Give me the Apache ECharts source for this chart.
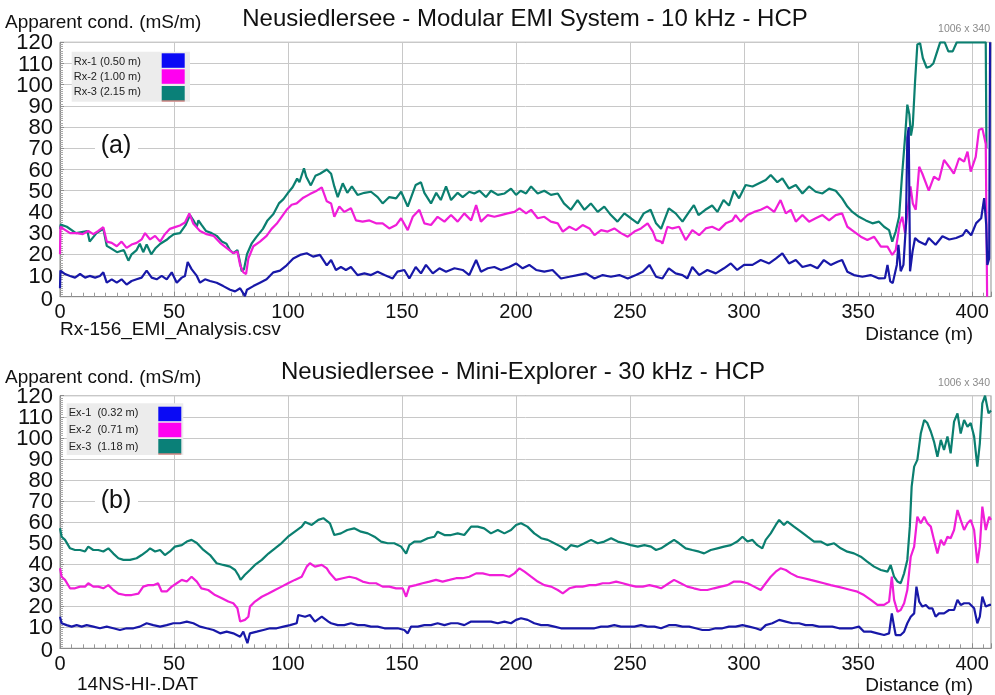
<!DOCTYPE html>
<html>
<head>
<meta charset="utf-8">
<script src="https://cdn.jsdelivr.net/npm/echarts@6/dist/echarts.min.js"></script>
<style>
  html, body { margin: 0; padding: 0; background: #fff; }
  #chart { width: 995px; height: 695px; }
</style>
</head>
<body>
<div id="chart"></div>
<script>
// panel (a): Modular EMI System, [distance m, apparent cond. mS/m]
const rx1 = [[0,4],[0.2,12.3],[2.2,10.7],[4.4,9.8],[6.6,9],[8.8,10.7],[11,9],[13,9.8],[15.4,9],[17.5,9.8],[19,11.5],[20.5,6.6],[22.7,8.2],[24.9,6.6],[27,8.2],[29.2,5.7],[31.4,7.4],[33.6,8.2],[35.8,9],[38,12.3],[40.2,9],[42.4,8.2],[44.6,9.8],[46.8,8.2],[49,11.5],[51.2,6.6],[53.4,9],[54.8,9.8],[56,16.4],[57.7,13],[60,9.8],[61.4,6.6],[63.6,8.2],[65.8,7.4],[68.7,6.6],[71.6,5],[74.6,3.3],[76.8,2.5],[79,4],[81.1,0.3],[82,3.3],[84.8,5],[87.7,6.6],[90.6,8.2],[93.6,11.5],[96.5,12.3],[99.4,14.8],[102.3,18],[105.3,19.7],[108.2,20.5],[111,18.9],[114,19.7],[117,14.8],[118.9,17.3],[121,12.6],[123.2,14],[125.4,12.6],[127.6,14],[130.5,10.2],[133.5,11],[136.4,10.2],[139.3,11.8],[142.3,10.2],[145.9,8.6],[148,11.8],[151,12.6],[153.2,8.6],[156,14],[158.3,11],[160.5,15],[163.5,11],[166.4,13.4],[169.3,11.8],[173,13.4],[176.6,12.6],[179.5,10.2],[182.5,17.3],[184.6,11.8],[187.6,13.4],[190.5,14],[193.4,12.6],[197,14],[200,15.7],[202.9,13.4],[205.8,15],[208.8,12.6],[212.4,11.8],[216,12.6],[219.7,8.6],[223.4,9.4],[227,10.2],[230.7,11],[234.4,8.6],[238,10.2],[241.6,9.4],[245.3,10.2],[249,8.6],[252.6,10.2],[255.6,11.8],[258.5,15],[261.4,9.4],[264.2,8.6],[267,13.4],[270,11],[273,10.2],[275.1,8.6],[277.3,14],[280.3,10.2],[283.9,12.6],[287.6,11],[291.2,13.4],[294.2,15.7],[297,12.6],[300,15],[303.7,15],[307.3,17.3],[311,15.7],[313.9,18],[316.8,20.4],[319.7,15.7],[322.7,17.3],[325.6,14],[329.2,15],[332.2,13.4],[335,17.3],[338,15],[341,16.5],[343,17.3],[345.3,11.8],[348.2,10.2],[351.9,9.4],[355.5,10.2],[359.2,8.6],[361.8,8.8],[362.9,15],[364.1,7.2],[365.2,6.4],[367,15],[367.7,24.5],[368.7,12],[369.9,15],[371,34],[371.6,75],[372.2,80],[372.8,12],[373.9,21.4],[375,27.7],[376.7,26],[379.6,24.5],[381,27.7],[384,24.5],[387,28.5],[390,27],[393,27.7],[395.9,29],[397.4,31.6],[399.6,29],[401.8,34.7],[404,37],[405.3,46.5],[406.2,34],[406.7,15],[407.5,18],[407.9,120]];
const rx2 = [[0,20],[0.2,33],[1.5,32],[4.4,30],[7.3,30],[10,29.5],[12.4,31],[14.6,29.5],[16.8,31],[19,32.8],[20.5,26],[22.7,25.4],[24.9,23.8],[27,26],[29.2,23],[31.4,24.6],[33.6,25.4],[35.8,27],[37.3,30],[39.5,27],[41.7,28.7],[43.9,26],[46,29.5],[48.2,32],[50.4,32.8],[52.6,33.6],[54.8,35],[56.7,39.3],[58.5,34.4],[61.4,31],[64.3,29.5],[67.3,28.7],[70.2,25.4],[73,23],[76,20.5],[77.8,21.3],[79,14.8],[80.4,11.5],[81.6,10.7],[82.6,18],[84.8,23.8],[87.7,26],[90.6,28.7],[92.8,32],[95,34.4],[97.2,37.7],[99.4,41],[101.6,43.4],[103.8,44],[106.7,46.7],[109.6,48.4],[112.6,50],[114.8,51.6],[117,45],[118.9,44],[120.3,37.7],[122.5,42.5],[124.7,40],[127.6,41.7],[129.8,36],[132.7,35.4],[135.7,36],[138.6,34.6],[141.5,34.6],[144.4,32.2],[147.4,33.8],[149.6,37],[152.5,31.4],[154.7,37.7],[157.6,41],[159.8,34.6],[162.7,33.8],[165.6,37.7],[168.6,35.4],[171.5,38.5],[174.4,35.4],[177.3,39.3],[180.3,36],[182.5,43.2],[184.6,35.4],[187.6,38.5],[190.5,37.7],[193.4,38.5],[196.3,39.3],[199.3,40],[201.5,41.7],[204.4,39.3],[206.6,41],[209.5,37],[212.4,37.7],[215.3,35.4],[218.3,34.6],[220.5,30.7],[223.4,33],[226.3,31.4],[229.2,33.8],[232.2,32.2],[234.4,29],[237.3,31.4],[240.2,30.7],[243.1,32.2],[246,30],[249,28.3],[251.9,30.7],[254.8,32.2],[257.7,34.6],[260,30.7],[261.4,26.7],[263.6,26],[264.2,25],[266.4,33],[268.6,32.2],[271.5,33],[274.4,26.7],[277.3,31.4],[280.3,29],[283.2,32.2],[286,33],[289,31.4],[292,34.6],[294.9,36],[296.3,38.5],[298.5,35.4],[301.5,38.5],[304.4,40],[307.3,41],[310.2,42.5],[313.2,40],[316,45.6],[318.3,39.3],[320.5,41],[322.7,35.4],[325.6,38.5],[328.5,35.4],[331.4,37],[334.4,38.5],[337.3,36],[340.2,38.5],[343,39.3],[345.3,33],[348.2,30.7],[351.2,28.3],[354.1,26.7],[357,28.3],[360,23.6],[362.9,23.6],[365,19.7],[366.5,22],[368.3,34.6],[369.4,37.7],[370.6,30],[371.6,39.3],[373,52],[374,44],[375.3,41],[376.8,61.3],[378.2,58],[381,50],[383.3,56.6],[385.5,55],[387.7,64.5],[389.9,61.3],[392,58],[394.3,65.3],[396.5,63.7],[398,68.4],[399.4,59],[401.6,66],[403,78.6],[404.5,79.4],[406,72],[406.6,0]];
const rx3 = [[0,32],[0.3,34],[3,33],[7,30],[12,31],[13,26],[16,30],[19,32],[20.5,24],[22,23],[25,21],[28,22],[30,17],[31.4,20],[33.6,22],[35,25],[36.5,21],[38,24.6],[40,20],[42,23],[44,25],[47,27],[48,28],[50,29.5],[52.6,30],[55,33.6],[57,38.5],[58.5,36],[60,33],[60.7,36],[62,34],[64,31],[66.5,30],[68.7,28.7],[71,26],[73,25],[74.5,22],[76,20.5],[77.8,22],[79,16],[79.7,12],[80.7,13],[82,20],[84,25],[86,28],[89,32],[91,36],[93.6,39],[96,44],[98,46],[100,49],[102,51.6],[104,55.7],[105,54],[107,60.6],[108,56.6],[110,52.5],[112,57],[114,58],[117,60],[118.9,58],[120.3,52],[121.8,47],[124,53.5],[126,49],[128,52],[130.5,48],[133.5,49],[136.4,49.5],[139.3,47],[141.5,44],[144.4,47],[147.4,46.4],[149.6,49.5],[152.5,42.5],[154.7,49],[156,52.7],[158.3,54],[159.8,49],[162.7,44],[165,49],[167,45.6],[169.3,52],[171.5,45.6],[174.4,49],[176.6,47],[179.5,49.5],[181.7,48.7],[184,50],[186.8,47],[189,50],[192,48],[195,48.7],[197.8,51],[200,48],[202,50],[204.4,48.7],[206.6,52],[209.5,48.7],[212.4,50],[215.3,48],[218.3,48.7],[221,44],[224,41],[227,45.6],[230,41],[232.8,44],[235.8,40],[238.7,42.5],[241.6,38.5],[244.5,35.4],[247.5,39.3],[250.4,37],[253.4,34.6],[256,39.3],[259,41],[261.4,34.6],[263.6,32],[267,41.7],[270,39.3],[273,35.4],[275.9,40],[278,43.2],[280,38.5],[283,41],[286,43],[288.3,40],[291,45.6],[293.4,43],[295.6,50],[297.8,46.4],[300.7,52.7],[303.7,52],[306.6,53.5],[309.5,55],[311.7,57.4],[314.6,54],[316.8,55.8],[319.7,51],[322.7,52.7],[325.6,48.7],[328.5,52],[331.4,49.5],[334.4,48.7],[337.3,51],[340.2,50],[343,46.4],[345.3,42.5],[347.5,40],[350.4,37.7],[353.4,36],[356.3,34.6],[359.2,35.4],[361.4,33],[363.6,31.4],[365,26],[366.5,30.7],[368,37.7],[369.2,56],[370.6,75],[371.6,90.6],[372.5,86],[373.2,76],[374,81],[375,101.6],[376,119],[377.2,119.6],[378.4,112.6],[380.1,108],[381.6,108.6],[383,110],[384.5,115],[386,120],[388,120],[389.6,115.7],[391.5,115.7],[393.3,120],[406,120],[406.3,70]];

// panel (b): Mini-Explorer
const ex1 = [[0,15],[0.7,11.9],[2.9,11],[5.1,10.3],[7.3,11],[9.5,10.3],[11.7,11],[14.6,10.3],[17.5,9.5],[20.5,10.3],[23.4,9.5],[26.3,8.7],[29.2,9.5],[32.2,9.5],[35,10.3],[38,11.9],[40.9,11],[43.9,10.3],[46.8,11],[49.7,11.9],[52.6,11.9],[55.6,12.7],[58.5,11.9],[61.4,10.3],[64.3,9.5],[67.3,8.7],[70.2,7.1],[73.1,7.9],[76,7.1],[79,5.5],[80.4,7.9],[82.2,2.4],[83.3,7.1],[86.3,7.9],[89.2,8.7],[92.1,9.5],[95,9.5],[98,10.3],[100.9,11],[103.8,11.9],[104.5,15.8],[107.5,15],[109.6,15.8],[111.8,12.7],[114.8,15],[117.7,12.7],[118.9,11.9],[121.8,11],[124.7,11],[127.6,11.9],[130.6,11],[133.5,11],[136.4,10.3],[139.3,10.3],[142.3,9.5],[145.2,9.5],[148.1,9.5],[151,8.7],[152.5,7.1],[154,10.3],[156.9,10.3],[159.8,11],[162.7,11],[165.6,11.9],[168.6,11],[171.5,11.9],[174.4,11.9],[177.3,11],[180.3,12.7],[183.2,12.7],[186.1,12.7],[189,12.7],[192,11.9],[194.9,12.7],[197.8,11.9],[200,13.5],[202.2,14.3],[205.1,13.5],[208,11.9],[211,11],[213.9,11],[216.8,10.3],[219.7,9.5],[222.7,9.5],[225.6,9.5],[228.5,9.5],[231.4,9.5],[234.4,9.5],[237.3,10.3],[240.2,10.3],[243.1,11],[246,10.3],[249,10.3],[251.9,10.3],[254.8,11],[257.7,10.3],[260.7,10.3],[263.6,9.5],[267,11],[270,11],[273,10.3],[275.9,10.3],[278.8,9.5],[281.7,8.7],[284.6,8.7],[287.6,9.5],[290.5,9.5],[293.4,10.3],[296.3,10.3],[299.3,11],[302.2,10.3],[305.1,9.5],[307.3,8.7],[309.5,11],[312.4,11.9],[315.4,13.5],[318.3,12.7],[321.2,11.9],[324.1,11.9],[327,11],[330,11],[332.9,10.3],[335.8,10.3],[338.7,10.3],[341.7,9.5],[344.6,9.5],[347.5,9.5],[350.4,10.3],[352.6,7.9],[355.6,7.9],[358.5,7.1],[361.4,6.3],[363.6,7.1],[364.8,16.6],[365.8,10.3],[366.5,6.3],[368.7,6.3],[370.2,7.9],[371.6,11.9],[373.1,15],[374.6,16.6],[375.6,29.3],[376.8,22.2],[378.2,19.8],[379.7,20.6],[381.1,19],[382.6,19],[384,15],[385.5,16.6],[387.7,16.6],[389.9,18.2],[392.1,18.2],[393.6,23],[395,20.6],[396.5,21.4],[398.7,21.4],[400.9,19],[402.3,11.9],[403.4,15],[404.5,24.5],[406,19.8],[407.5,20.6],[408.3,20.6]];
const ex2 = [[0,38],[0.7,34],[2.2,32.5],[4.4,28.5],[6.6,28.5],[8.8,29.3],[11,29.3],[12.4,30.9],[14.6,29.3],[16.8,29.3],[19,28.5],[21.2,30],[23.4,27.7],[25.6,26],[28.5,25.3],[31.4,25.3],[34.4,26],[36.5,29.3],[38.7,30],[40.9,30],[43,30.9],[44.6,27],[46.8,27],[49,29.3],[51.2,30.9],[53.4,32.5],[55.6,31.7],[57.7,34],[60,31.7],[62,28.5],[65,27.7],[68,25.3],[71,23.8],[73.8,22.2],[76,21.4],[77.8,19],[79,12.7],[81.1,13.5],[82.6,15],[83.3,19.8],[85.5,22.2],[88.5,24.5],[91.4,26],[94.3,27.7],[97.2,29.3],[100,30.9],[103,32.5],[106,34],[108.2,38.8],[109.6,40.4],[111.8,38.8],[114.8,39.6],[117,38],[118.4,35.6],[121,32.5],[124,33.3],[126.9,34],[129.8,33.3],[132.7,31.7],[135.7,30.9],[138.6,30.9],[141.5,29.3],[144.4,29.3],[147.4,28.5],[150.3,28.5],[151.8,24.5],[153.2,29.3],[156.1,30],[159,30.9],[162,31.7],[164.9,32.5],[167.8,31.7],[170.8,32.5],[173.7,33.3],[176.6,33.3],[179.5,34],[182.5,35.6],[185.4,35.6],[188.3,34.8],[191.2,34.8],[194.2,34.8],[197,34],[199.3,35.6],[201.5,38],[203.7,36.4],[206.6,34],[209.5,31.7],[212.4,30],[215.4,29.3],[218.3,27.7],[220.5,26.1],[223.4,28.5],[226.3,29.3],[229.2,29.3],[232.2,30],[235,30],[238,30.9],[240.9,30.9],[243.9,31.7],[246.8,30.9],[249.7,30],[252.6,29.3],[255.6,29.3],[258.5,30],[261.4,29.3],[263.6,28.5],[267,30.9],[269.3,32.5],[272.2,30.9],[275.1,29.3],[278,28.5],[281,27.7],[283.9,27.7],[286.8,28.5],[289.8,29.3],[292.7,30],[295.6,31.7],[298.5,31.7],[301.5,30.9],[304.4,29.3],[307.3,27.7],[309.5,30.9],[311.7,34],[313.9,36.4],[316,38],[318.3,37.2],[320.5,35.6],[323.4,34],[326.3,33.3],[329.2,32.5],[332.2,31.7],[335,30.9],[338,30],[341,29.3],[343.9,28.5],[346.8,27.7],[349.7,26.9],[352.6,25.3],[355.6,23],[358.5,20.6],[361.4,20.6],[363.6,22.2],[364.8,34],[365.8,23],[367.3,17.4],[368.7,18.2],[370.2,21.4],[371.6,27.7],[373.1,43.5],[374.6,48.3],[376,62.5],[377.5,59.4],[379,62.5],[380.4,59.4],[381.9,57.8],[383.3,51.5],[384.8,45.1],[386.3,51.5],[387.7,49],[389.2,53],[390.6,52.3],[392.1,56.2],[393.6,65.7],[395,61],[396.5,56.2],[398,59.4],[399.4,61],[400.9,56.2],[402.3,40.4],[403.4,48.3],[404.5,67.3],[406,56.2],[407.5,62.5],[408.3,61]];
const ex3 = [[0,57],[0.7,53],[2.2,51.5],[4.4,47.5],[6.6,46.7],[8.8,46.7],[11,46],[12.4,48.3],[14.6,46.7],[16.8,46.7],[19,46],[21.2,47.5],[23.4,45],[25.6,42.8],[27.8,42],[30.7,42],[33.6,42.8],[35.8,44.3],[38,46],[39.5,47.5],[41.7,46],[43.9,46.7],[46,44.3],[48.2,46],[50.4,48.3],[53.4,49],[55.6,50.7],[57.7,51.5],[60,50],[62.9,46.7],[65.8,44.3],[68.7,40.4],[71.6,39.6],[74.6,38.8],[76.8,37.2],[78.2,34.8],[79.2,32.5],[81,34.8],[83.3,37.2],[85.5,39.6],[88.5,42],[91.4,45],[94.3,47.5],[97.2,50],[100,53],[103,55.4],[106,57.8],[107.5,60],[110.4,58.6],[113.3,61],[115.5,61.8],[118.4,59.4],[120.3,53.8],[123.2,54.6],[126,56.2],[129,57],[132,55.4],[135,54.6],[137.9,53],[140.8,50.7],[143.7,49.9],[146.6,49.9],[149.6,48.3],[151.8,45],[153.2,49],[155.4,50.7],[158.3,50.7],[161.3,52.3],[164.2,53],[165.6,55.4],[168.6,53.8],[171.5,53.8],[174.4,54.6],[177.3,53.8],[180.3,57.8],[183.2,57.8],[186,57],[189,54.6],[192,56.2],[194.9,54.6],[197.8,56.2],[200,58.6],[202.2,59.4],[205,57.8],[208,54.6],[211,52.3],[213.9,51.5],[216.8,49.9],[219.7,48.3],[221.9,46.7],[224,49],[227,48.3],[230,49.9],[232.9,51.5],[235.8,49.9],[238.7,50.7],[241.7,52.3],[244.6,50.7],[247.5,49.9],[250.4,49],[253.4,48.3],[256.3,49],[259.2,48.3],[261.4,46.7],[263.6,47.5],[267,49.9],[269.3,51.5],[271.5,49.9],[274.4,47.5],[277.3,46.7],[280.3,45.9],[282.5,45.1],[285.4,46.7],[288.3,47.5],[291.2,48.3],[294.2,49],[297,50.7],[299.3,53],[301.5,50.7],[303.7,51.5],[305.8,49],[308,47.5],[309.5,51.5],[311.7,54.6],[313.9,58.6],[315.4,61],[317.5,58.6],[319,60.2],[321.9,57.8],[324.9,55.4],[327.8,53],[330.7,50.7],[333.6,50.7],[336.5,49],[339.5,49.9],[342.4,47.5],[345.3,45.9],[348.2,45.1],[351.2,43.5],[354,41.2],[357,38.8],[360,37.2],[362.9,36.4],[364.3,39.6],[365.8,34],[367.3,31.7],[368.7,30.9],[370.2,35.6],[371.6,42],[372.7,57.8],[373.5,76.8],[374.6,86.3],[376,89.5],[377.5,102],[379,108.5],[380.4,107],[381.9,103],[383.3,98.2],[384.8,91],[386.3,99],[387.7,94.2],[389.2,100.6],[390.6,92.6],[392.1,107.7],[393.6,111.6],[395,102],[396.5,108.5],[398,105.3],[399.4,107],[400.9,100.6],[402.3,86.3],[403.4,97.4],[404.5,116.4],[405.7,120],[407.2,111.6],[408.3,113]];

const yTicks = [0, 10, 20, 30, 40, 50, 60, 70, 80, 90, 100, 110, 120];
const legendA = ["Rx-1 (0.50 m)", "Rx-2 (1.00 m)", "Rx-3 (2.15 m)"];
const legendB = ["Ex-1  (0.32 m)", "Ex-2  (0.71 m)", "Ex-3  (1.18 m)"];
const lineColors = ["#1818a8", "#f01ed8", "#0b7f70"];
const swatchColors = ["#0a0af5", "#ff00f0", "#0a8078"];

const FONT = "'Liberation Sans', Arial, sans-serif";
const X_MAX = 408.3;

const xAxisFor = (gridIndex) => ({
  type: "value",
  gridIndex,
  min: 0,
  max: X_MAX,
  interval: 50,
  axisLine: { show: true, lineStyle: { color: "#8c8c8c" } },
  axisTick: { show: true, inside: true, length: 5, lineStyle: { color: "#8c8c8c" } },
  minorTick: { show: true, splitNumber: 10, length: 4, lineStyle: { color: "#9a9a9a" } },
  splitLine: { show: true, lineStyle: { color: "#c8c8c8", width: 1 } },
  axisLabel: {
    color: "#111",
    fontFamily: FONT,
    fontSize: 20,
    margin: 6,
    showMinLabel: true,
    formatter: (v) => (v % 50 === 0 ? String(v) : ""),
  },
});

// y labels are drawn as graphic text further down (21px gaps make echarts drop some)
const yAxisFor = (gridIndex) => ({
  type: "value",
  gridIndex,
  min: 0,
  max: 120,
  interval: 10,
  axisLine: { show: true, lineStyle: { color: "#8c8c8c" } },
  axisTick: { show: true, inside: true, length: 4, lineStyle: { color: "#8c8c8c" } },
  minorTick: { show: true, splitNumber: 10, length: 3, lineStyle: { color: "#a8a8a8" } },
  splitLine: { show: true, lineStyle: { color: "#c8c8c8", width: 1 } },
  axisLabel: { show: false },
});

const lineSeries = (name, data, color, idx) => ({
  name,
  type: "line",
  xAxisIndex: idx,
  yAxisIndex: idx,
  data,
  showSymbol: false,
  symbol: "none",
  clip: true,
  lineStyle: { color, width: 2.2 },
  itemStyle: { color },
});

const text = (x, y, str, size, opts = {}) => ({
  type: "text",
  x,
  y,
  z: 100,
  style: Object.assign(
    { text: str, font: size + "px " + FONT, fill: "#111", align: "left", verticalAlign: "middle" },
    opts
  ),
});

const legendBox = (x0, y0, labels, rows, sw) => {
  const els = [
    { type: "rect", z: 90, shape: { x: x0, y: y0, width: sw.boxW, height: sw.boxH }, style: { fill: "#ececec" } },
  ];
  labels.forEach((lab, i) => {
    els.push(text(x0 + 2, rows[i], lab, 11, { fill: "#222" }));
    els.push({
      type: "rect",
      z: 95,
      shape: { x: sw.x, y: sw.ys[i], width: 23, height: 14.5 },
      style: { fill: swatchColors[i] },
    });
  });
  els.push({ type: "rect", z: 96, shape: { x: sw.x, y: sw.ys[2] + 14.5, width: 23, height: 1 }, style: { fill: "#c0504d" } });
  return els;
};

const chart = echarts.init(document.getElementById("chart"), null, { renderer: "canvas" });

chart.setOption({
  animation: false,
  backgroundColor: "#fff",
  grid: [
    { left: 60, right: 4, top: 42.3, height: 254.4, show: true, borderColor: "#8c8c8c", borderWidth: 1 },
    { left: 60, right: 4, top: 395.7, height: 252.6, show: true, borderColor: "#8c8c8c", borderWidth: 1 },
  ],
  xAxis: [xAxisFor(0), xAxisFor(1)],
  yAxis: [yAxisFor(0), yAxisFor(1)],
  series: [
    lineSeries(legendA[2], rx3, lineColors[2], 0),
    lineSeries(legendA[1], rx2, lineColors[1], 0),
    lineSeries(legendA[0], rx1, lineColors[0], 0),
    lineSeries(legendB[2], ex3, lineColors[2], 1),
    lineSeries(legendB[1], ex2, lineColors[1], 1),
    lineSeries(legendB[0], ex1, lineColors[0], 1),
  ],
});

// y tick labels placed through the axis scale
const yLabels = [];
[0, 1].forEach((axisIdx) => {
  yTicks.forEach((v) => {
    const py = chart.convertToPixel({ yAxisIndex: axisIdx }, v);
    yLabels.push(text(53, py + (v === 0 ? 3 : 1), String(v), 22, { align: "right" }));
  });
});

chart.setOption({
  graphic: [
    // panel (a) texts
    text(5, 23, "Apparent cond. (mS/m)", 19),
    text(525, 19, "Neusiedlersee - Modular EMI System - 10 kHz - HCP", 24, { align: "center" }),
    text(990, 29, "1006 x 340", 10.5, { align: "right", fill: "#8a8a8a" }),
    text(60, 330, "Rx-156_EMI_Analysis.csv", 19),
    text(973, 335, "Distance (m)", 19, { align: "right" }),
    { type: "rect", z: 98, shape: { x: 95, y: 133, width: 43, height: 26 }, style: { fill: "#fff" } },
    text(116, 146, "(a)", 25, { align: "center" }),
    ...legendBox(71.7, 51.7, legendA, [61.7, 77, 91.5], { boxW: 118.3, boxH: 50, x: 161.7, ys: [53.3, 69.3, 86] }),
    // panel (b) texts
    text(5, 378, "Apparent cond. (mS/m)", 19),
    text(523, 372, "Neusiedlersee - Mini-Explorer - 30 kHz - HCP", 24, { align: "center" }),
    text(990, 383, "1006 x 340", 10.5, { align: "right", fill: "#8a8a8a" }),
    text(77, 685, "14NS-HI-.DAT", 19),
    text(973, 686, "Distance (m)", 19, { align: "right" }),
    { type: "rect", z: 98, shape: { x: 95, y: 488, width: 43, height: 26 }, style: { fill: "#fff" } },
    text(116, 501, "(b)", 25, { align: "center" }),
    ...legendBox(66.7, 403.3, legendB, [413.3, 430, 446.5], { boxW: 116.6, boxH: 51.7, x: 158.3, ys: [406.7, 422.7, 439] }),
    ...yLabels,
  ],
});
</script>
</body>
</html>
